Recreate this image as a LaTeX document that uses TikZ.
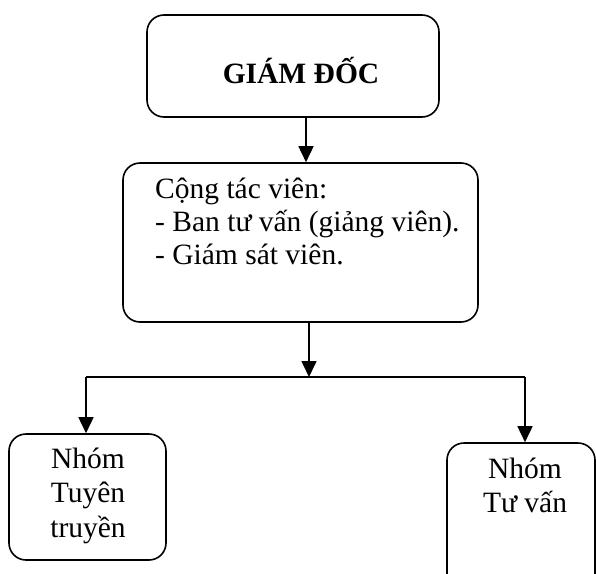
\documentclass[tikz,border=0pt]{standalone}
\usepackage{fontspec}
\setmainfont{Liberation Serif}
\usetikzlibrary{arrows.meta}
\begin{document}
\begin{tikzpicture}[x=1pt,y=-1pt,
  box/.style={draw, line width=1.6pt, rounded corners=17pt, inner sep=0pt},
  arr/.style={-{Triangle[length=16pt,width=15pt]}, line width=1.6pt},
  ln/.style={line width=1.6pt},
  txt/.style={anchor=base, inner sep=0pt, font=\fontsize{29.5}{34}\selectfont},
  ltxt/.style={anchor=base west, inner sep=0pt, font=\fontsize{29.5}{34}\selectfont}]
\useasboundingbox (0,0) rectangle (596,573);
% boxes
\node[box, minimum width=292pt, minimum height=102pt] (gd) at (293,66) {};
\node[box, minimum width=355pt, minimum height=159pt] (ctv) at (300.5,242.5) {};
\node[box, minimum width=157pt, minimum height=126pt] (tt) at (87.5,497) {};
\node[box, minimum width=148pt, minimum height=150pt] (tv) at (521,518) {};
% texts
\node[txt, font=\fontsize{29.5}{34}\selectfont\bfseries] (gdt) at (301,83) {GIÁM ĐỐC};
\node[ltxt] (c1) at (155,198) {Cộng tác viên:};
\node[ltxt] (c2) at (155,231) {- Ban tư vấn (giảng viên).};
\node[ltxt] (c3) at (155,264) {- Giám sát viên.};
\node[txt] (t1) at (88,468) {Nhóm};
\node[txt] (t2) at (88,502) {Tuyên};
\node[txt] (t3) at (88,537) {truyền};
\node[txt] (v1) at (525,478) {Nhóm};
\node[txt] (v2) at (525,512) {Tư vấn};
% connectors
\coordinate (a1) at (306,117);
\draw[arr] (a1) -- (a1 |- ctv.north);
\coordinate (a2) at (309,322);
\coordinate (j) at (309,377);
\draw[arr] (a2) -- (j);
\coordinate (jl) at (86,377);
\coordinate (jr) at (525,377);
\draw[ln] (jl) -- (jr);
\draw[arr] (jl) -- (jl |- tt.north);
\draw[arr] (jr) -- (jr |- tv.north);
\end{tikzpicture}
\end{document}
